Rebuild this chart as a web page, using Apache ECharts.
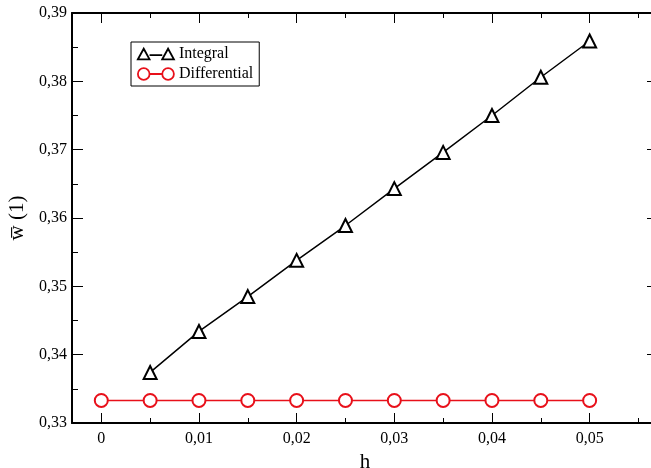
<!DOCTYPE html>
<html>
<head>
<meta charset="utf-8">
<script src="https://cdn.jsdelivr.net/npm/echarts@6/dist/echarts.min.js"></script>
<style>
  html, body { margin: 0; padding: 0; background: #fff; }
  #chart { width: 651px; height: 468px; }
</style>
</head>
<body>
<div id="chart"></div>
<script>
/* ---------------- data ---------------- */
let hIntegral = [0.005, 0.01, 0.015, 0.02, 0.025, 0.03, 0.035, 0.04, 0.045, 0.05];
let integralValues = [0.3374, 0.3434, 0.3485, 0.3538, 0.3589, 0.3643, 0.3696, 0.3750, 0.3806, 0.3859];
let hDifferential = [0, 0.005, 0.01, 0.015, 0.02, 0.025, 0.03, 0.035, 0.04, 0.045, 0.05];
let differentialValues = [0.3333, 0.3333, 0.3333, 0.3333, 0.3333, 0.3333, 0.3333, 0.3333, 0.3333, 0.3333, 0.3333];

let xTicks = [0, 0.01, 0.02, 0.03, 0.04, 0.05];
let xTickLabels = ['0', '0,01', '0,02', '0,03', '0,04', '0,05'];
let xMinorTicks = [0.005, 0.015, 0.025, 0.035, 0.045, 0.055];
let yTicks = [0.33, 0.34, 0.35, 0.36, 0.37, 0.38, 0.39];
let yTickLabels = ['0,33', '0,34', '0,35', '0,36', '0,37', '0,38', '0,39'];

let pick = function (ticks, labels) {
    return function (v) {
        let i = ticks.findIndex(t => Math.abs(t - v) < 1e-9);
        return i < 0 ? '' : labels[i];
    };
};
let zip = (xs, ys) => xs.map((x, i) => [x, ys[i]]);

/* ---------------- axes ---------------- */
const FONT = 'Liberation Serif';
const X_MIN = -0.003, X_MAX = 0.057;
const RED = '#e8101a';

let xAxisBase = function (pos, ticks, len, showLine) {
    return {
        type: 'value',
        position: pos,
        min: X_MIN,
        max: X_MAX,
        axisLine: { show: showLine, onZero: false, lineStyle: { color: '#000', width: 2 } },
        axisTick: { show: true, inside: true, length: len, customValues: ticks, lineStyle: { color: '#000', width: 1 } },
        axisLabel: { show: false },
        splitLine: { show: false }
    };
};

let xMain = xAxisBase('bottom', xTicks, 10, true);
xMain.axisLabel = {
    show: true, customValues: xTicks, formatter: pick(xTicks, xTickLabels),
    color: '#000', fontFamily: FONT, fontSize: 16, margin: 8
};
xMain.name = 'h';
xMain.nameLocation = 'middle';
xMain.nameGap = 26;
xMain.nameTextStyle = { color: '#000', fontFamily: FONT, fontSize: 21 };

let yAxisBase = function (pos) {
    return {
        type: 'value',
        position: pos,
        min: 0.33,
        max: 0.39,
        interval: 0.01,
        axisLine: { show: true, onZero: false, lineStyle: { color: '#000', width: 2 } },
        axisTick: { show: true, inside: true, length: 11, lineStyle: { color: '#000', width: 1 } },
        minorTick: { show: true, splitNumber: 2, length: 6, lineStyle: { color: '#000', width: 1 } },
        axisLabel: { show: false },
        splitLine: { show: false },
        minorSplitLine: { show: false }
    };
};
let yMain = yAxisBase('left');
yMain.axisLabel = {
    show: true, formatter: pick(yTicks, yTickLabels),
    color: '#000', fontFamily: FONT, fontSize: 16, margin: 5
};
yMain.name = 'w\u0305 (1)';
yMain.nameLocation = 'middle';
yMain.nameGap = 40;
yMain.nameRotate = 90;
yMain.nameTextStyle = { color: '#000', fontFamily: FONT, fontSize: 21 };

// legend icons: marker - line - marker
const TRI_ICON = 'path://M1 13L6.5 3L12 13ZM12 9L24 9M24 13L29.5 3L35 13Z';
const CIR_ICON = 'path://M1 8A5.5 5.5 0 1 0 12 8A5.5 5.5 0 1 0 1 8ZM12 8L24 8M24 8A5.5 5.5 0 1 0 35 8A5.5 5.5 0 1 0 24 8Z';

let option = {
    animation: false,
    backgroundColor: '#fff',
    grid: { left: 72, top: 13, bottom: 45, right: -7, outerBoundsMode: 'none' },
    legend: {
        orient: 'vertical',
        left: 131,
        top: 42,
        padding: [4, 6, 4, 6],
        itemGap: 4,
        itemWidth: 36,
        itemHeight: 14,
        borderColor: '#000',
        borderWidth: 1,
        backgroundColor: '#fff',
        textStyle: { color: '#000', fontFamily: FONT, fontSize: 16 },
        data: [
            { name: 'Integral', icon: TRI_ICON, itemStyle: { color: '#fff', borderColor: '#000', borderWidth: 1.8 } },
            { name: 'Differential', icon: CIR_ICON, itemStyle: { color: '#fff', borderColor: RED, borderWidth: 1.8 } }
        ]
    },
    xAxis: [
        xMain,
        xAxisBase('bottom', xMinorTicks, 5, false),
        xAxisBase('top', xTicks, 10, true),
        xAxisBase('top', xMinorTicks, 5, false)
    ],
    yAxis: [yMain, yAxisBase('right')],
    series: [
        {
            name: 'Integral',
            type: 'line',
            xAxisIndex: 0,
            yAxisIndex: 0,
            data: zip(hIntegral, integralValues),
            symbol: 'emptyTriangle',
            symbolSize: 13,
            lineStyle: { color: '#000', width: 1.5 },
            itemStyle: { color: '#000', borderColor: '#000', borderWidth: 1.8 }
        },
        {
            name: 'Differential',
            type: 'line',
            xAxisIndex: 0,
            yAxisIndex: 0,
            data: zip(hDifferential, differentialValues),
            symbol: 'emptyCircle',
            symbolSize: 13,
            lineStyle: { color: RED, width: 1.5 },
            itemStyle: { color: RED, borderColor: RED, borderWidth: 1.8 }
        }
    ]
};

echarts.init(document.getElementById('chart')).setOption(option);
</script>
</body>
</html>
